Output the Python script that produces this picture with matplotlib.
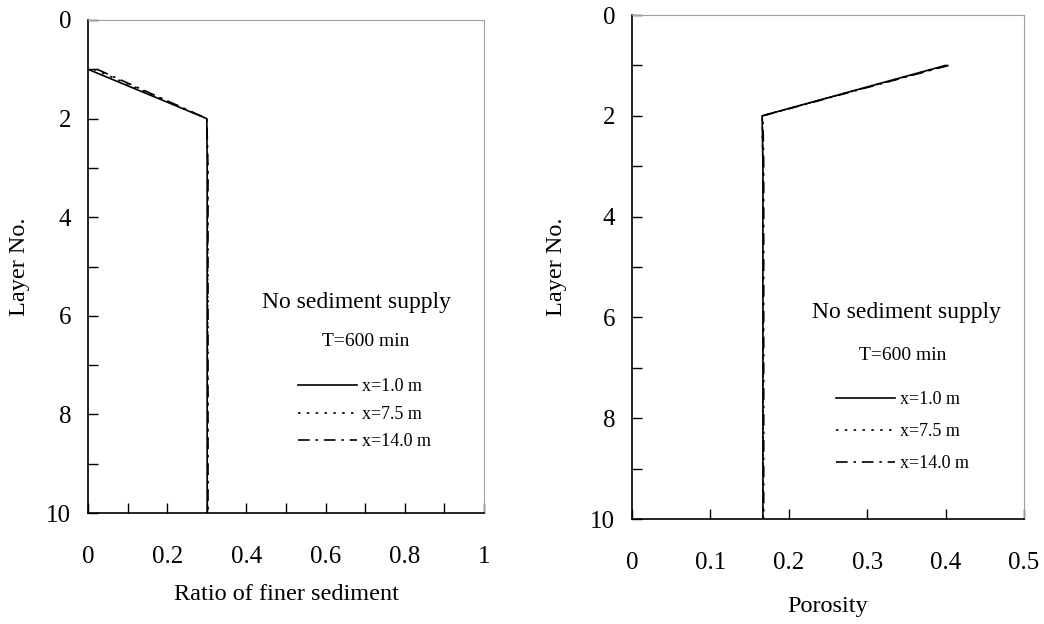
import matplotlib
matplotlib.use("Agg")
import matplotlib.pyplot as plt
from matplotlib.lines import Line2D
from matplotlib.ticker import MultipleLocator

plt.rcParams['font.family'] = ['Liberation Serif', 'DejaVu Serif']

# layer numbers (depth axis)
layers = [1, 2, 3, 4, 5, 6, 7, 8, 9, 10]

# ratio of finer sediment at each layer, T=600 min
finer_x1 = [0.0, 0.300, 0.301, 0.301, 0.301, 0.301, 0.301, 0.301, 0.301, 0.301]
finer_x75 = [0.015, 0.300, 0.302, 0.302, 0.302, 0.302, 0.302, 0.302, 0.302, 0.302]
finer_x14 = [0.023, 0.300, 0.303, 0.303, 0.303, 0.303, 0.303, 0.303, 0.303, 0.303]

# porosity at each layer, T=600 min
poro_x1 = [0.400, 0.166, 0.167, 0.167, 0.167, 0.167, 0.167, 0.167, 0.167, 0.167]
poro_x75 = [0.402, 0.166, 0.167, 0.167, 0.167, 0.167, 0.167, 0.167, 0.167, 0.167]
poro_x14 = [0.404, 0.167, 0.168, 0.168, 0.168, 0.168, 0.168, 0.168, 0.168, 0.168]

series_labels = ['x=1.0 m', 'x=7.5 m', 'x=14.0 m']
styles = ['-', (0, (1.5, 3.8)), (0, (7, 3.5, 1.5, 3.5))]

finer_ticks = [0, 0.2, 0.4, 0.6, 0.8, 1.0]
finer_ticklabels = ['0', '0.2', '0.4', '0.6', '0.8', '1']
poro_ticks = [0, 0.1, 0.2, 0.3, 0.4, 0.5]
poro_ticklabels = ['0', '0.1', '0.2', '0.3', '0.4', '0.5']

fig = plt.figure(figsize=(10.44, 6.24), dpi=100)
W, H = 1044.0, 624.0
ax1 = fig.add_axes([88 / W, 1 - 513 / H, 396 / W, 493 / H])
ax2 = fig.add_axes([632 / W, 1 - 519 / H, 392 / W, 504 / H])


def style_axes(ax, xlim, ticks, ticklabels, minor_x, xlabel, xlab_y, ylab_x):
    ax.set_xlim(*xlim)
    ax.set_ylim(10, 0)
    ax.set_xticks(ticks)
    ax.set_xticklabels(ticklabels)
    if minor_x:
        ax.xaxis.set_minor_locator(MultipleLocator(minor_x))
    ax.yaxis.set_major_locator(MultipleLocator(2))
    ax.yaxis.set_minor_locator(MultipleLocator(1))
    ax.tick_params(which='both', direction='in', length=7, width=1, colors='black')
    ax.tick_params(axis='y', which='both', labelsize=18, pad=12)
    ax.tick_params(axis='x', which='both', labelsize=18, pad=24)
    ax.spines['top'].set_color('#a0a0a0')
    ax.spines['right'].set_color('#a0a0a0')
    ax.spines['left'].set_linewidth(1.2)
    ax.spines['bottom'].set_linewidth(1.2)
    ax.set_xlabel(xlabel, fontsize=17.5)
    ax.set_ylabel('Layer No.', fontsize=17.5)
    ax.xaxis.set_label_coords(0.5, xlab_y)
    ax.yaxis.set_label_coords(ylab_x, 0.5)


for vals, ls in zip([finer_x1, finer_x75, finer_x14], styles):
    ax1.plot(vals, layers, color='black', linestyle=ls, linewidth=1.2)
for vals, ls in zip([poro_x1, poro_x75, poro_x14], styles):
    ax2.plot(vals, layers, color='black', linestyle=ls, linewidth=1.2)

style_axes(ax1, (0, 1), finer_ticks, finer_ticklabels, 0.1,
           'Ratio of finer sediment', -0.145, -0.146)
style_axes(ax2, (0, 0.5), poro_ticks, poro_ticklabels, None,
           'Porosity', -0.152, -0.166)

handles = [Line2D([0], [0], color='black', linestyle=ls, linewidth=1.2) for ls in styles]

# left panel annotations
ax1.text(0.677, 0.426, 'No sediment supply', transform=ax1.transAxes,
         ha='center', va='center', fontsize=17)
ax1.text(0.70, 0.347, 'T=600 min', transform=ax1.transAxes,
         ha='center', va='center', fontsize=14)
ax1.legend(handles, series_labels, loc='upper left', bbox_to_anchor=(0.53, 0.273),
           frameon=False, fontsize=13, handlelength=3.3, handletextpad=0.25,
           labelspacing=0.58, borderpad=0, borderaxespad=0)

# right panel annotations
ax2.text(0.70, 0.409, 'No sediment supply', transform=ax2.transAxes,
         ha='center', va='center', fontsize=17)
ax2.text(0.69, 0.325, 'T=600 min', transform=ax2.transAxes,
         ha='center', va='center', fontsize=14)
ax2.legend(handles, series_labels, loc='upper left', bbox_to_anchor=(0.52, 0.254),
           frameon=False, fontsize=13, handlelength=3.3, handletextpad=0.25,
           labelspacing=0.83, borderpad=0, borderaxespad=0)

fig.savefig('out.png', dpi=100)
